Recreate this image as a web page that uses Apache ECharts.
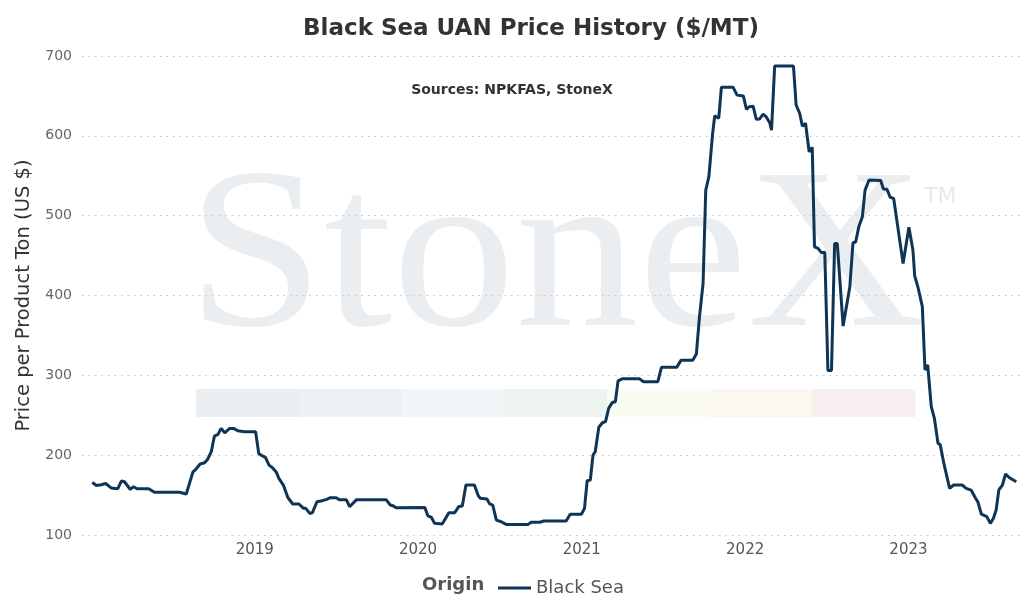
<!DOCTYPE html>
<html>
<head>
<meta charset="utf-8">
<script src="https://cdn.jsdelivr.net/npm/echarts@6/dist/echarts.min.js"></script>
<style>
html,body{margin:0;padding:0;background:#fff;}
#chart{width:1032px;height:607px;}
</style>
</head>
<body>
<div id="chart"></div>
<script>
const dates = [
'2018-01-03','2018-01-12','2018-01-23','2018-02-02','2018-02-14','2018-03-01','2018-03-09','2018-03-16','2018-03-29','2018-04-05',
'2018-04-13','2018-05-09','2018-05-22','2018-07-17','2018-08-01','2018-08-16','2018-08-22','2018-09-01','2018-09-11','2018-09-18',
'2018-09-26','2018-10-03','2018-10-11','2018-10-18','2018-10-26','2018-11-06','2018-11-15','2018-11-24','2018-12-09','2019-01-03',
'2019-01-10','2019-01-18','2019-01-25','2019-02-02','2019-02-10','2019-02-18','2019-02-24','2019-03-06','2019-03-16','2019-03-27',
'2019-04-10','2019-04-20','2019-04-25','2019-05-04','2019-05-10','2019-05-20','2019-06-01','2019-06-11','2019-06-19','2019-07-02',
'2019-07-10','2019-07-25','2019-08-01','2019-08-16','2019-10-22','2019-10-31','2019-11-07','2019-11-13','2020-01-16','2020-01-23',
'2020-01-31','2020-02-07','2020-02-24','2020-03-10','2020-03-23','2020-04-01','2020-04-09','2020-04-17','2020-05-06','2020-05-14',
'2020-05-19','2020-06-03','2020-06-09','2020-06-16','2020-06-24','2020-07-05','2020-07-16','2020-09-03','2020-09-10','2020-09-29',
'2020-10-08','2020-11-27','2020-12-06','2020-12-31','2021-01-07','2021-01-13','2021-01-20','2021-01-26','2021-01-31','2021-02-08',
'2021-02-16','2021-02-23','2021-03-02','2021-03-10','2021-03-17','2021-03-23','2021-04-01','2021-05-10','2021-05-19','2021-06-20',
'2021-06-28','2021-08-01','2021-08-11','2021-09-06','2021-09-14','2021-09-21','2021-09-29','2021-10-05','2021-10-12','2021-10-20',
'2021-10-25','2021-11-03','2021-11-09','2021-12-05','2021-12-14','2021-12-28','2022-01-04','2022-01-10','2022-01-19','2022-01-26',
'2022-02-02','2022-02-10','2022-02-17','2022-02-25','2022-03-01','2022-03-08','2022-04-19','2022-04-25','2022-05-03','2022-05-09',
'2022-05-16','2022-05-24','2022-05-31','2022-06-05','2022-06-13','2022-06-20','2022-06-28','2022-07-05','2022-07-13','2022-07-20',
'2022-07-26','2022-08-08','2022-08-23','2022-08-30','2022-09-05','2022-09-12','2022-09-20','2022-09-26','2022-10-05','2022-10-31',
'2022-11-06','2022-11-14','2022-11-21','2022-11-29','2022-12-20','2023-01-02','2023-01-11','2023-01-15','2023-01-22','2023-02-01',
'2023-02-07','2023-02-13','2023-02-21','2023-02-28','2023-03-08','2023-03-13','2023-03-21','2023-04-03','2023-04-12','2023-05-01',
'2023-05-10','2023-05-21','2023-05-31','2023-06-05','2023-06-13','2023-06-25','2023-07-03','2023-07-10','2023-07-16','2023-07-22',
'2023-07-30','2023-08-06','2023-08-14','2023-08-30'
];
const prices = [
166,162,163,164.5,159,158,167.6,166.7,157,160.5,
158,158,153.5,153.5,151.3,179,182,189,190.5,195,
204.5,224,226,233.5,228,233.5,233.5,230.6,229.3,229.3,
202,199,197.3,187.6,184,179,171,162.5,147,138.8,
138.8,133.4,133.4,127,128,141.7,143,144.7,146.7,146.7,
144,144,135.4,144,144,137.6,136.3,134,134.6,124,
122,114.6,113.7,128,128,135.6,136.3,162.6,162.6,150,
146,145,139,137.5,118.6,116.6,113.3,113.3,116,116,
117.5,117.5,126,126,133.4,168,168.9,200,204.3,235,
240.6,242,258.6,266,267,293,295.6,295.6,292,292,
310,310,319,319,326.7,373.6,415,532,549,601,
625,622,661,661,651,650,633,636.5,637,620.7,
621,627,624,616.5,607,687.5,687.5,638.6,628,612,
615.7,580,585.6,461,459,454,454,306,306,465,
465,361.7,411,466,467,486,498.7,532,544.7,544,
533.4,533,523,521.6,440,485.4,457,424.4,411,386,
306.7,313,260.7,246,215,213,190,158.5,162.6,162.6,
158.5,156.3,146,141.6,126,123,114.6,121,131.5,156.5,
162.6,176.4,172,166.7
];
const yTicks = [100, 200, 300, 400, 500, 600, 700];
const xYearLabels = ['2019', '2020', '2021', '2022', '2023'];
const seriesName = 'Black Sea';
const stripeColors = ['#eaeef1','#edf1f3','#f1f6f9','#edf3f0','#fafbf2','#fbf8ef','#f8eef0'];

const chart = echarts.init(document.getElementById('chart'));
const FONT = '"DejaVu Sans", Verdana, sans-serif';

const stripes = stripeColors.map((c, i) => ({
  type: 'rect', z: -1, silent: true,
  shape: { x: 196 + i * 102.7, y: 389, width: 103.2, height: 28 },
  style: { fill: c }
}));

chart.setOption({
  backgroundColor: '#ffffff',
  animation: false,
  title: {
    text: 'Black Sea UAN Price History ($/MT)',
    left: 526, top: 13, textAlign: 'center',
    textStyle: { fontFamily: FONT, fontWeight: 'bold', fontSize: 23, color: '#333333' }
  },
  grid: { left: 82, right: 9, top: 56, bottom: 72 },
  legend: {
    left: 493, top: 574,
    itemWidth: 33, itemHeight: 3, icon: 'rect',
    textStyle: { fontFamily: FONT, fontSize: 18, color: '#555555' },
    data: [seriesName]
  },
  graphic: [
    { type: 'text', z: -1, silent: true, x: 556, y: 265, scaleX: 1.025, scaleY: 0.95,
      style: { text: 'StoneX', font: 'normal 240px "Liberation Serif", "DejaVu Serif", serif',
        fill: '#ebeef1', align: 'center', verticalAlign: 'middle' } },
    { type: 'text', z: -1, silent: true, x: 924, y: 197,
      style: { text: 'TM', font: 'normal 22px ' + FONT, fill: '#e6eaed', align: 'left', verticalAlign: 'middle' } },
    ...stripes,
    { type: 'text', x: 512, y: 90,
      style: { text: 'Sources: NPKFAS, StoneX', font: 'bold 14px ' + FONT, fill: '#333333', align: 'center', verticalAlign: 'middle' } },
    { type: 'text', x: 422, y: 585,
      style: { text: 'Origin', font: 'bold 18px ' + FONT, fill: '#555555', align: 'left', verticalAlign: 'middle' } }
  ],
  xAxis: {
    type: 'time',
    min: '2017-12-11', max: '2023-09-14',
    axisLine: { show: false }, axisTick: { show: false },
    splitLine: { show: false },
    axisLabel: {
      fontFamily: FONT, fontSize: 15, color: '#555555', margin: 8,
      formatter: function (v) {
        const d = new Date(v);
        const y = String(d.getFullYear());
        return (d.getMonth() === 0 && d.getDate() === 1 && xYearLabels.indexOf(y) >= 0) ? y : '';
      }
    }
  },
  yAxis: {
    type: 'value', min: yTicks[0], max: yTicks[yTicks.length - 1], interval: 100,
    name: 'Price per Product Ton (US $)', nameLocation: 'middle', nameGap: 46,
    nameTextStyle: { fontFamily: FONT, fontSize: 19.5, color: '#333333' },
    axisLine: { show: false }, axisTick: { show: false },
    axisLabel: { fontFamily: FONT, fontSize: 14, color: '#666666', margin: 10 },
    splitLine: { lineStyle: { type: [1.5, 5], color: '#c4c4c4', width: 1.2 } }
  },
  series: [{
    name: seriesName, type: 'line', symbol: 'none', showSymbol: false,
    color: '#0e3456',
    lineStyle: { width: 3, color: '#0e3456' },
    data: dates.map((d, i) => [d, prices[i]])
  }]
});
</script>
</body>
</html>
